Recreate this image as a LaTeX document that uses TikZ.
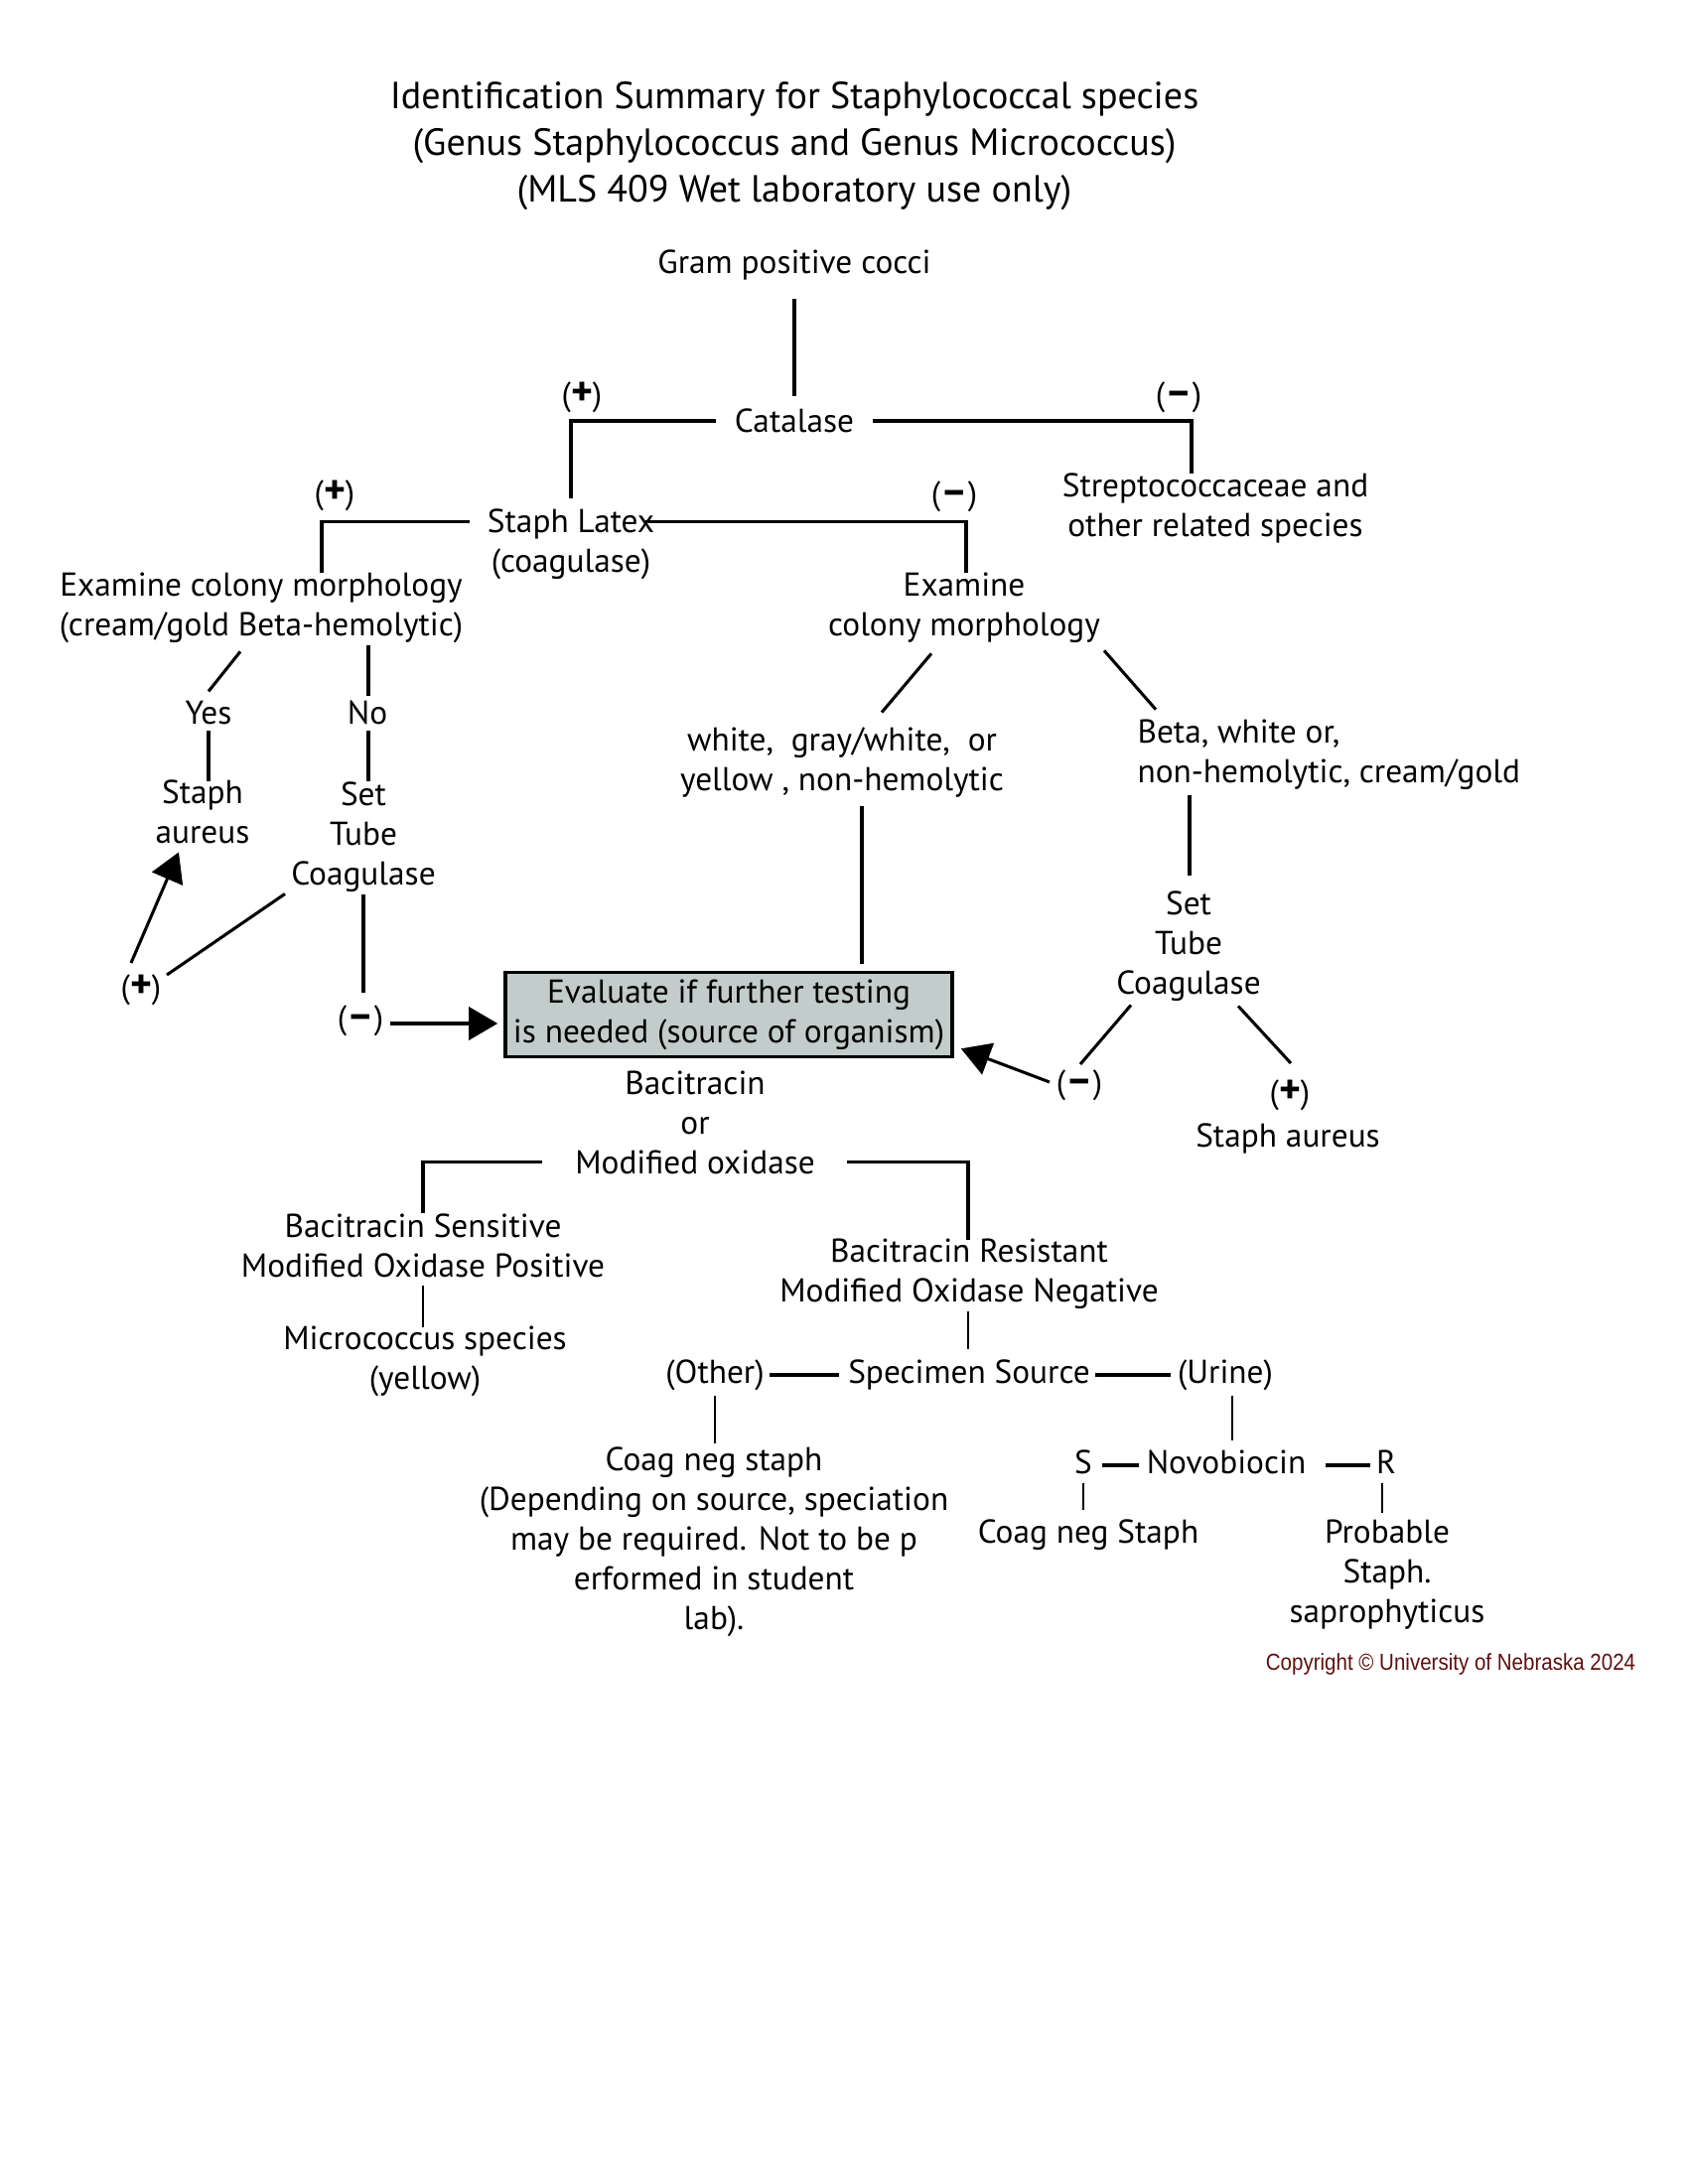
\documentclass[tikz,border=0pt]{standalone}
\usepackage{fontspec}
\setmainfont{PT Sans}
\newfontfamily\narrowfont[FakeStretch=0.88]{Liberation Sans}
\usetikzlibrary{arrows.meta,calc}
\definecolor{boxfill}{RGB}{194,204,203}
\definecolor{copyred}{RGB}{95,15,15}
\newcommand{\plussign}{(\textbf{\fontsize{15}{14.4}\selectfont +})}
\newcommand{\minussign}{(\textbf{\fontsize{15}{14.4}\selectfont –})}
\begin{document}
\begin{tikzpicture}[x=0.36pt,y=-0.36pt,
  txt/.style={inner sep=0pt, align=center, font=\fontsize{12}{14.4}\selectfont,
    execute at begin node=\strut, execute at end node=\strut},
  ttl/.style={inner sep=0pt, align=center, font=\fontsize{13.7}{17}\selectfont,
    execute at begin node=\strut, execute at end node=\strut},
  sgn/.style={inner sep=0pt, font=\fontsize{12}{14.4}\selectfont},
  conn/.style={line width=1.1pt},
  thinconn/.style={line width=0.85pt},
  arr/.style={line width=1.1pt, -{Triangle[length=10.5pt,width=12pt]}},
  evalbox/.style={inner sep=0pt, align=center, font=\fontsize{12}{14.4}\selectfont,
    draw=black, line width=1.3pt, fill=boxfill,
    minimum width=162pt, minimum height=30.6pt,
    execute at begin node={\rule{0pt}{12.9pt}},
    execute at end node={\rule[-1.5pt]{0pt}{1pt}}}
]
\useasboundingbox (0,0) rectangle (1700,2200);
\fill[white] (0,0) rectangle (1700,2200);

\node[ttl] (title) at (800,150) {Identification Summary for Staphylococcal species\\(Genus Staphylococcus and Genus Micrococcus)\\(MLS 409 Wet laboratory use only)};
\node[txt] (gpc) at (800,267) {Gram positive cocci};
\node[txt] (cat) at (800,427) {Catalase};
\node[sgn] (catp) at (586,400) {\plussign};
\node[sgn] (catm) at (1187,400) {\minussign};
\node[txt] (strep) at (1224,515) {Streptococcaceae and\\other related species};
\node[txt] (sl) at (575,551) {Staph Latex\\(coagulase)};
\node[sgn] (slp) at (337,499) {\plussign};
\node[sgn] (slm) at (961,500) {\minussign};
\node[txt] (lexam) at (263,615) {Examine colony morphology\\(cream/gold Beta-hemolytic)};
\node[txt] (mexam) at (971,615) {Examine\\colony morphology};
\node[txt] (yes) at (210,721) {Yes};
\node[txt] (no) at (370,721) {No};
\node[txt] (saL) at (204,824) {Staph\\aureus};
\node[txt] (stL) at (366,846) {Set\\Tube\\Coagulase};
\node[sgn] (pL) at (142,997) {\plussign};
\node[sgn] (mL) at (363,1028) {\minussign};
\node[evalbox] (box) at (734,1022) {Evaluate if further testing\\is needed (source of organism)};
\node[txt] (wg) at (848,771) {white,\ \ gray/white,\ \ or\\yellow , non-hemolytic};
\node[txt, anchor=west, align=left] (beta) at (1145,763) {Beta, white or,\\non-hemolytic, cream/gold};
\node[txt] (stR) at (1197,956) {Set\\Tube\\Coagulase};
\node[sgn] (mR) at (1087,1093) {\minussign};
\node[sgn] (pR) at (1299,1103) {\plussign};
\node[txt] (saR) at (1297,1147) {Staph aureus};
\node[txt] (mox) at (700,1137) {Bacitracin\\or\\Modified oxidase};
\node[txt] (bs) at (426,1261) {Bacitracin Sensitive\\Modified Oxidase Positive};
\node[txt] (mic) at (428,1374) {Micrococcus species\\(yellow)};
\node[txt] (br) at (976,1286) {Bacitracin Resistant\\Modified Oxidase Negative};
\node[txt] (oth) at (720,1385) {(Other)};
\node[txt] (spec) at (976,1385) {Specimen Source};
\node[txt] (urine) at (1234,1385) {(Urine)};
\node[txt] (cns) at (719,1556) {Coag neg staph\\(Depending on source, speciation\\may be required. Not to be p\\erformed in student\\lab).};
\node[txt] (S) at (1091,1476) {S};
\node[txt] (novo) at (1235,1476) {Novobiocin};
\node[txt] (R) at (1396,1476) {R};
\node[txt] (cnS) at (1096,1546) {Coag neg Staph};
\node[txt] (prob) at (1397,1589) {Probable\\Staph.\\saprophyticus};
\node[inner sep=0pt, anchor=base, font=\narrowfont\fontsize{8.4}{10}\selectfont, text=copyred] (copy) at (1461,1682) {Copyright © University of Nebraska 2024};

\draw[conn] ($(gpc.south)+(0,13)$) -- ($(cat.north)+(0,-7)$);
\draw[conn] ($(cat.west)+(-18,-3)$) -| ($(sl.north)+(0,-11)$);
\draw[conn] ($(cat.east)+(18,-3)$) -| ($(strep.north)+(-24,0)$);
\draw[conn] ($(sl.north west)+(-17,13)$) -| ($(lexam.north)+(61,0)$);
\draw[conn] ($(sl.north east)+(-10,13)$) -| ($(mexam.north)+(2,0)$);
\draw[conn] ($(lexam.south)+(-21,3)$) -- ($(yes.north)+(0,-4)$);
\draw[conn] ($(lexam.south)+(108,-3)$) -- ($(no.north)+(1,1)$);
\draw[conn] ($(yes.south)+(0,-6)$) -- ($(saL.north)+(6,1)$);
\draw[conn] ($(no.south)+(1,-6)$) -- ($(stL.north)+(5,-1)$);
\draw[conn] ($(stL.south)+(-79,-4)$) -- ($(pL.center)+(26,-15)$);
\draw[arr] ($(pL.center)+(-10,-27)$) -- ($(saL.south)+(-24,-4)$);
\draw[conn] ($(stL.south)+(0,-3)$) -- ($(mL.center)+(3,-28)$);
\draw[arr] ($(mL.center)+(30,3)$) -- ($(box.west)+(-6,9)$);
\draw[conn] ($(mexam.south)+(-33,5)$) -- ($(wg.north)+(40,-15)$);
\draw[conn] ($(mexam.south)+(141,2)$) -- ($(beta.north west)+(19,-10)$);
\draw[conn] ($(wg.south)+(20,3)$) -- ($(box.north)+(134,-7)$);
\draw[conn] ($(beta.south west)+(53,0)$) -- ($(stR.north)+(1,-16)$);
\draw[conn] ($(stR.south)+(-58,-2)$) -- ($(mR.center)+(1,-21)$);
\draw[conn] ($(stR.south)+(50,-1)$) -- ($(pR.center)+(1,-32)$);
\draw[arr] ($(mR.center)+(-30,-3)$) -- ($(box.south east)+(7,-10)$);
\draw[conn] ($(mox.south west)+(-33,-25)$) -| ($(bs.north)+(0,-1)$);
\draw[conn] ($(mox.south east)+(32,-25)$) -| ($(br.north)+(-1,1)$);
\draw[thinconn] ($(bs.south)+(0,-4)$) -- ($(mic.north)+(-2,1)$);
\draw[thinconn] ($(br.south)+(-1,-3)$) -- ($(spec.north)+(-1,-5)$);
\draw[conn] ($(oth.east)+(5,0)$) -- ($(spec.west)+(-9,0)$);
\draw[conn] ($(spec.east)+(5,0)$) -- ($(urine.west)+(-7,0)$);
\draw[thinconn] (oth.south) -- ($(cns.north)+(1,-4)$);
\draw[thinconn] ($(urine.south)+(7,0)$) -- ($(novo.north)+(6,-4)$);
\draw[conn] ($(S.east)+(10,0)$) -- ($(novo.west)+(-7,0)$);
\draw[conn] ($(novo.east)+(19,0)$) -- ($(R.west)+(-6,0)$);
\draw[thinconn] ($(S.south)+(0,-3)$) -- ($(cnS.north)+(-5,-4)$);
\draw[thinconn] ($(R.south)+(-4,-3)$) -- ($(prob.north)+(-5,-7)$);
\end{tikzpicture}
\end{document}
